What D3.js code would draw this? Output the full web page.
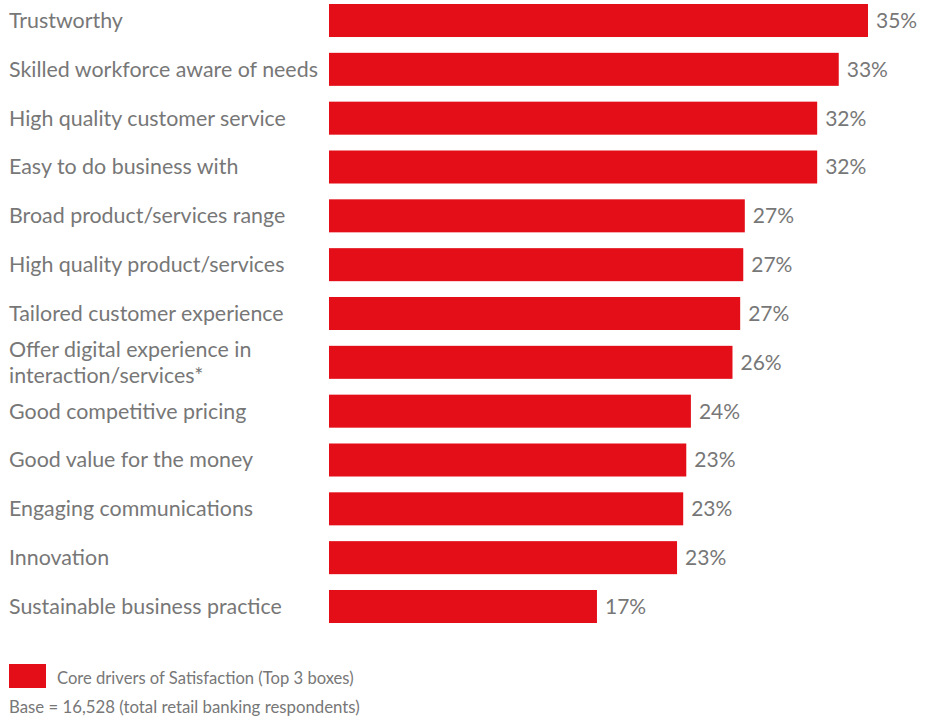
<!DOCTYPE html>
<html>
<head>
<meta charset="utf-8">
<script src="https://cdn.jsdelivr.net/npm/d3@7"></script>
<style>
  html, body { margin: 0; padding: 0; background: #fff; }
  svg { display: block; }
</style>
</head>
<body>
<svg id="chart" width="935" height="720"></svg>
<script>
// Core drivers of satisfaction, share of respondents (%)
const categories = [
  "Trustworthy",
  "Skilled workforce aware of needs",
  "High quality customer service",
  "Easy to do business with",
  "Broad product/services range",
  "High quality product/services",
  "Tailored customer experience",
  "Offer digital experience in|interaction/services*",
  "Good competitive pricing",
  "Good value for the money",
  "Engaging communications",
  "Innovation",
  "Sustainable business practice"
];
const values = [35.0, 33.1, 31.7, 31.7, 27.0, 26.9, 26.7, 26.2, 23.5, 23.2, 23.0, 22.6, 17.4];
const legendLabel = "Core drivers of Satisfaction (Top 3 boxes)";
const baseNote = "Base = 16,528 (total retail banking respondents)";

const RED = "#e30e18";
const GREY = "#777777";
const FONT = "Lato, 'Open Sans', sans-serif";
const CAT_SIZE = 21.4;

const data = categories.map((c, i) => ({ label: c, value: values[i] }));

const svg = d3.select("#chart");

const x = d3.scaleLinear().domain([0, 35]).range([329, 868]);
const y = d3.scaleBand()
  .domain(d3.range(data.length))
  .range([4, 623])
  .paddingInner(0.324)
  .paddingOuter(0);

// Bars
svg.append("g").selectAll("rect")
  .data(data)
  .join("rect")
  .attr("x", x(0))
  .attr("y", (d, i) => y(i))
  .attr("width", d => x(d.value) - x(0))
  .attr("height", y.bandwidth())
  .attr("fill", RED);

// Value labels
svg.append("g").selectAll("text")
  .data(data)
  .join("text")
  .attr("x", d => x(d.value) + 8)
  .attr("y", (d, i) => y(i) + y.bandwidth() / 2)
  .attr("dy", "0.35em")
  .attr("font-family", FONT)
  .attr("font-size", 21)
  .attr("fill", GREY)
  .text(d => Math.round(d.value) + "%");

// Category labels (multi-line where split by "|")
const cat = svg.append("g").selectAll("text")
  .data(data)
  .join("text")
  .attr("font-family", FONT)
  .attr("font-size", CAT_SIZE)
  .attr("fill", GREY)
  .attr("y", (d, i) => y(i) + y.bandwidth() / 2);

cat.each(function(d) {
  const lines = d.label.split("|");
  const lh = 26;
  const t = d3.select(this);
  lines.forEach((ln, k) => {
    t.append("tspan")
      .attr("x", 9)
      .attr("dy", k === 0 ? (0.35 * CAT_SIZE - (lines.length - 1) * lh / 2) : lh)
      .text(ln);
  });
});

// Legend
const legend = svg.append("g");
legend.append("rect")
  .attr("x", 9).attr("y", 664)
  .attr("width", 37).attr("height", 24)
  .attr("fill", RED);
legend.append("text")
  .attr("x", 57).attr("y", 678)
  .attr("dy", "0.35em")
  .attr("font-family", FONT)
  .attr("font-size", 16.6)
  .attr("fill", GREY)
  .text(legendLabel);
legend.append("text")
  .attr("x", 9).attr("y", 707)
  .attr("dy", "0.35em")
  .attr("font-family", FONT)
  .attr("font-size", 16.8)
  .attr("fill", GREY)
  .text(baseNote);
</script>
</body>
</html>
